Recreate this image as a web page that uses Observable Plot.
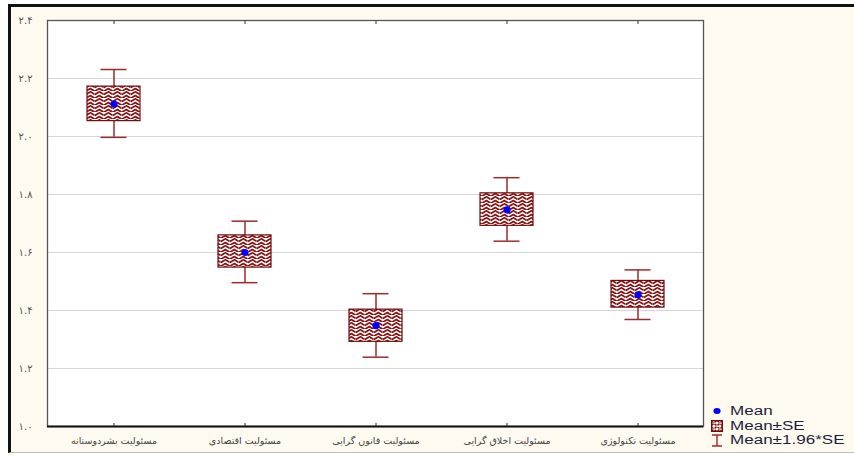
<!DOCTYPE html>
<html>
<head>
<meta charset="utf-8">
<script src="https://cdn.jsdelivr.net/npm/d3@7"></script>
<script src="https://cdn.jsdelivr.net/npm/@observablehq/plot@0.6"></script>
<style>
  body { margin: 0; background: #ffffff; }
  #wrap { position: relative; width: 854px; height: 456px; overflow: hidden; }
  #bg { position: absolute; left: 8px; top: 4px; width: 860px; height: 445px; background: #fffaf0;
        border-top: 3px solid #111; border-left: 3px solid #111; border-bottom: 1px solid #bdbdbd; }
  #chart { position: absolute; left: 0; top: 0; }
  #legend { position: absolute; left: 711px; top: 404px; font-family: "Liberation Sans", Arial, sans-serif;
            font-size: 12px; color: #1e1e3c; line-height: 14.5px; }
  #legend .row { display: flex; align-items: center; height: 14.5px; }
  #legend .txt { display: inline-block; transform: scaleX(1.42); transform-origin: left center; margin-left: 7px; }
</style>
</head>
<body>
<div id="wrap">
  <div id="bg"></div>
  <div id="chart"></div>
  <div id="legend"></div>
</div>
<script>
const categories = ["مسئولیت بشردوستانه", "مسئولیت اقتصادی", "مسئولیت قانون گرایی", "مسئولیت اخلاق گرایی", "مسئولیت تکنولوژی"];
const means  = [2.112, 1.600, 1.348, 1.747, 1.454];
const seLow  = [2.053, 1.548, 1.292, 1.692, 1.410];
const seHigh = [2.172, 1.659, 1.403, 1.804, 1.502];
const ciLow  = [1.997, 1.496, 1.239, 1.639, 1.369];
const ciHigh = [2.231, 1.708, 1.458, 1.858, 1.540];
const yTicks = [1.0, 1.2, 1.4, 1.6, 1.8, 2.0, 2.2, 2.4];
const legendLabels = ["Mean", "Mean±SE", "Mean±1.96*SE"];

const data = categories.map((c, i) => ({cat: c, mean: means[i], seLow: seLow[i], seHigh: seHigh[i], ciLow: ciLow[i], ciHigh: ciHigh[i]}));

const faDigits = "۰۱۲۳۴۵۶۷۸۹";
const fa = d => d.toFixed(1).replace(/[0-9]/g, ch => faDigits[+ch]);

const whisker = "#9a2b2b";

const chart = Plot.plot({
  width: 854,
  height: 456,
  marginLeft: 47,
  marginRight: 151,
  marginTop: 20,
  marginBottom: 30,
  style: {background: "transparent", overflow: "visible"},
  x: {domain: categories, padding: 0, axis: null},
  y: {domain: [1.0, 2.4], axis: null},
  marks: [
    Plot.frame({fill: "white", stroke: null}),
    Plot.ruleY(yTicks, {stroke: "#d6d6d6", strokeWidth: 1}),
    Plot.axisY({ticks: yTicks, tickSize: 0, tickPadding: 15, tickFormat: fa, fontSize: 10, fill: "#555", fontFamily: "DejaVu Sans", label: null}),
    Plot.axisX({anchor: "bottom", tickSize: 0, tickPadding: 11, fontSize: 9.5, fill: "#444", fontFamily: "DejaVu Sans", label: null}),
    Plot.axisX({anchor: "bottom", tickSize: -3, tickFormat: () => "", stroke: "#333", label: null}),
    Plot.axisX({anchor: "top", tickSize: -3, tickFormat: () => "", stroke: "#333", label: null}),
    Plot.ruleX(data, {x: "cat", y1: "ciLow", y2: "ciHigh", stroke: whisker, strokeWidth: 1.5}),
    Plot.tickY(data, {x: "cat", y: "ciHigh", insetLeft: 52.5, insetRight: 52.5, stroke: whisker, strokeWidth: 1.5}),
    Plot.tickY(data, {x: "cat", y: "ciLow", insetLeft: 52.5, insetRight: 52.5, stroke: whisker, strokeWidth: 1.5}),
    Plot.barY(data, {x: "cat", y1: "seLow", y2: "seHigh", insetLeft: 39, insetRight: 39, fill: "url(#zz)", stroke: "#6e0c0c", strokeWidth: 1.2}),
    Plot.dot(data, {x: "cat", y: "mean", r: 3.6, fill: "#0000ff", stroke: "none"}),
    Plot.frame({stroke: "#555", strokeWidth: 1.3}),
    Plot.ruleY([1.0], {stroke: "#111", strokeWidth: 2})
  ]
});

chart.insertAdjacentHTML("afterbegin",
  `<defs><pattern id="zz" patternUnits="userSpaceOnUse" width="9" height="7">
     <rect width="9" height="7" fill="#ffffff"/>
     <path d="M0.3,0.8 L3.6,2.8 M5.3,3.3 L8.6,1.2 M0.3,4.6 L3.6,6.6 M5.3,6.9 L8.6,4.9" stroke="#8b0f0f" stroke-width="1.7" stroke-linecap="round" fill="none"/>
   </pattern>
   <pattern id="zzl" patternUnits="userSpaceOnUse" width="6" height="6">
     <rect width="6" height="6" fill="#ffffff"/>
     <path d="M0.5,1 L2.5,2.5 M3.5,2.5 L5.5,0.6 M0.5,5.4 L2.5,3.6 M3.5,3.8 L5.5,5.4" stroke="#8b0f0f" stroke-width="1.5" fill="none"/>
   </pattern></defs>`);
document.getElementById("chart").appendChild(chart);

const icons = [
  `<svg width="12" height="12"><ellipse cx="6" cy="6" rx="3.6" ry="3" fill="#0000ff"/></svg>`,
  `<svg width="12" height="12"><rect x="0.6" y="0.6" width="10.8" height="10.8" fill="url(#zzl)" stroke="#6e0c0c" stroke-width="1.2"/></svg>`,
  `<svg width="12" height="13"><path d="M1,1 H11 M6,1 V12 M1,12 H11" stroke="${whisker}" stroke-width="1.4" fill="none"/></svg>`
];
document.getElementById("legend").innerHTML = legendLabels.map((l, i) =>
  `<div class="row">${icons[i]}<span class="txt">${l}</span></div>`).join("");
</script>
</body>
</html>
